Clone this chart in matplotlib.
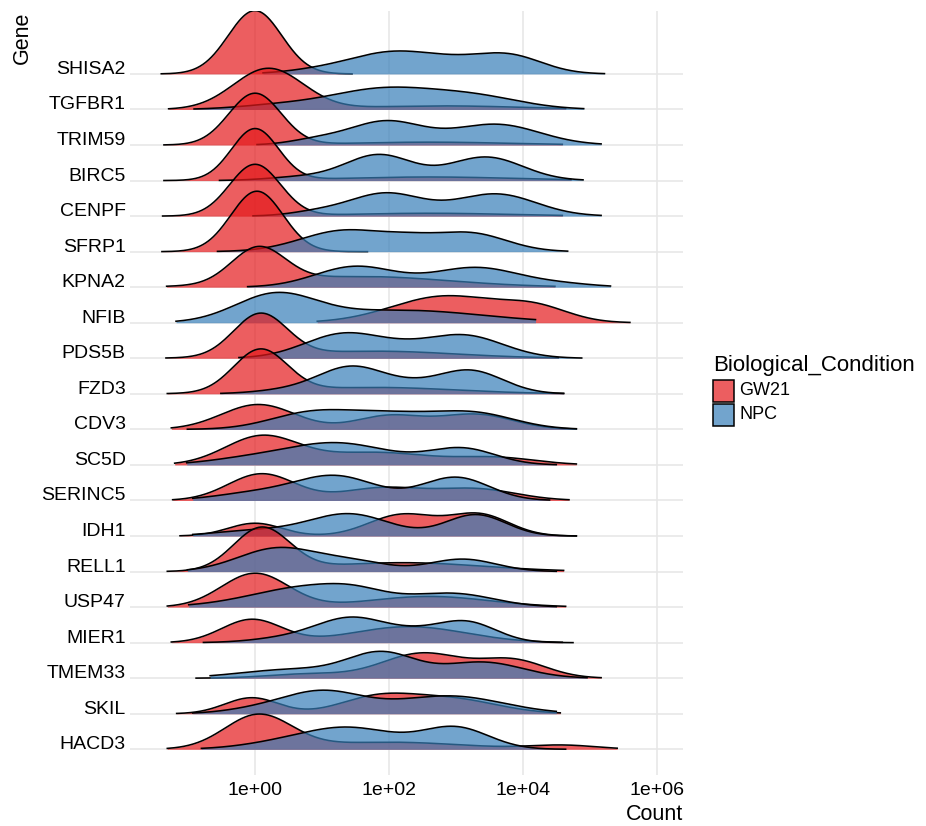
import numpy as np
import matplotlib
matplotlib.use('Agg')
import matplotlib.pyplot as plt
from matplotlib.patches import Rectangle
from matplotlib.colors import to_rgba
from matplotlib.ticker import FixedLocator, NullLocator

plt.rcParams['font.family'] = ['Liberation Sans', 'DejaVu Sans']

# genes, top row first
genes = ['SHISA2', 'TGFBR1', 'TRIM59', 'BIRC5', 'CENPF', 'SFRP1', 'KPNA2', 'NFIB',
         'PDS5B', 'FZD3', 'CDV3', 'SC5D', 'SERINC5', 'IDH1', 'RELL1', 'USP47',
         'MIER1', 'TMEM33', 'SKIL', 'HACD3']

# data range of each ridge (log10 Count)
gw21_lo = [-1.40, -1.29, -1.36, -1.36, -1.38, -1.39, -1.32, 0.93, -1.33, -1.31,
           -1.25, -1.20, -1.23, -1.12, -1.31, -1.31, -1.25, -0.88, -1.17, -1.31]
gw21_hi = [1.45, 4.64, 4.59, 4.72, 4.59, 1.68, 4.48, 5.60, 4.53, 4.61,
           4.80, 4.80, 4.69, 4.80, 4.61, 4.64, 4.59, 5.17, 4.56, 5.41]
npc_lo = [0.12, -0.91, 0.03, -0.53, -0.03, -0.56, -0.11, -1.18, -0.24, -0.51,
          -1.01, -1.02, -0.93, -0.93, -1.01, -0.99, -0.77, -0.67, -0.93, -0.80]
npc_hi = [5.22, 4.91, 5.17, 4.90, 5.17, 4.67, 5.31, 4.19, 4.88, 4.61,
          4.80, 4.50, 4.40, 4.80, 4.50, 4.50, 4.75, 4.96, 4.50, 4.64]

# density bumps: (log10 centre, width, height in rows)
gw21_peaks = [
    [(0.0, 0.40, 1.78)],
    [(0.2, 0.52, 1.15), (2.8, 1.2, 0.10)],
    [(0.0, 0.39, 1.45), (2.6, 1.2, 0.08)],
    [(0.0, 0.35, 1.45), (2.6, 1.3, 0.10)],
    [(0.0, 0.38, 1.45), (2.6, 1.2, 0.08)],
    [(0.03, 0.39, 1.70)],
    [(0.05, 0.40, 1.00), (1.6, 1.3, 0.30)],
    [(2.85, 0.80, 0.75), (4.2, 0.5, 0.38)],
    [(0.08, 0.40, 1.20), (1.8, 1.2, 0.20)],
    [(0.08, 0.40, 1.20), (1.8, 1.2, 0.18)],
    [(0.05, 0.55, 0.70), (2.0, 0.5, 0.38), (3.3, 0.55, 0.42)],
    [(0.1, 0.55, 0.80), (1.8, 0.8, 0.35), (3.6, 0.6, 0.20)],
    [(0.1, 0.50, 0.75), (1.9, 0.6, 0.35), (3.3, 0.6, 0.32)],
    [(0.0, 0.40, 0.36), (2.2, 0.5, 0.60), (3.35, 0.45, 0.60)],
    [(0.1, 0.42, 1.20), (2.2, 1.2, 0.25)],
    [(0.0, 0.50, 0.95), (2.6, 0.9, 0.30)],
    [(-0.05, 0.45, 0.65), (2.3, 0.85, 0.45)],
    [(0.8, 0.60, 0.12), (2.5, 0.6, 0.70), (3.85, 0.5, 0.50)],
    [(-0.05, 0.40, 0.45), (1.8, 0.55, 0.42), (2.9, 0.7, 0.42)],
    [(0.05, 0.50, 0.95), (2.0, 1.1, 0.20), (4.6, 0.5, 0.11)],
]
npc_peaks = [
    [(0.9, 0.5, 0.08), (2.05, 0.65, 0.60), (3.0, 0.5, 0.20), (3.8, 0.5, 0.50)],
    [(0.3, 0.6, 0.10), (1.9, 0.8, 0.57), (3.3, 0.7, 0.33)],
    [(0.9, 0.4, 0.13), (1.95, 0.55, 0.66), (3.6, 0.65, 0.58)],
    [(0.7, 0.5, 0.10), (1.85, 0.5, 0.72), (3.45, 0.55, 0.66)],
    [(0.9, 0.4, 0.10), (1.95, 0.55, 0.64), (3.6, 0.6, 0.62)],
    [(1.35, 0.65, 0.60), (2.3, 0.4, 0.20), (3.2, 0.55, 0.52)],
    [(1.5, 0.6, 0.58), (3.3, 0.65, 0.55), (4.6, 0.5, 0.08)],
    [(0.3, 0.6, 0.75), (2.2, 1.2, 0.35)],
    [(1.35, 0.6, 0.70), (2.2, 0.4, 0.08), (3.1, 0.6, 0.65)],
    [(0.5, 0.5, 0.10), (1.45, 0.5, 0.75), (2.3, 0.4, 0.15), (3.2, 0.5, 0.66)],
    [(0.8, 0.6, 0.42), (2.0, 0.7, 0.42), (3.3, 0.6, 0.42)],
    [(-0.2, 0.6, 0.12), (1.2, 0.8, 0.62), (3.1, 0.5, 0.45)],
    [(0.0, 0.6, 0.20), (1.2, 0.6, 0.68), (3.0, 0.5, 0.65)],
    [(0.0, 0.6, 0.15), (1.4, 0.6, 0.62), (3.3, 0.45, 0.60)],
    [(0.35, 0.6, 0.66), (1.5, 0.5, 0.25), (3.1, 0.5, 0.35)],
    [(0.9, 0.9, 0.60), (1.5, 0.4, 0.12), (3.0, 0.6, 0.35)],
    [(0.4, 0.5, 0.10), (1.45, 0.55, 0.70), (2.4, 0.4, 0.17), (3.15, 0.45, 0.58)],
    [(0.6, 0.8, 0.25), (1.9, 0.5, 0.67), (3.4, 0.6, 0.45)],
    [(0.0, 0.5, 0.10), (1.0, 0.6, 0.62), (2.9, 0.8, 0.50)],
    [(0.3, 0.6, 0.12), (1.4, 0.7, 0.60), (3.0, 0.5, 0.60)],
]

red = '#E41A1C'
blue = '#377EB8'


def ridge(peaks, lo, hi):
    t = np.linspace(lo, hi, 400)
    d = np.zeros_like(t)
    for mu, sd, h in peaks:
        d += h * np.exp(-0.5 * ((t - mu) / sd) ** 2)
    return 10 ** t, d


W, H = 926, 826
fig = plt.figure(figsize=(W / 100, H / 100), dpi=100)
ax = fig.add_axes([130 / W, 1 - 775 / H, (683 - 130) / W, (775 - 11) / H])

n = len(genes)
for i in range(n):
    k = n - i
    z = 3 + i
    series = [(gw21_peaks[i], gw21_lo[i], gw21_hi[i], red, 0.0),
              (npc_peaks[i], npc_lo[i], npc_hi[i], blue, 0.5)]
    for peaks, lo, hi, col, off in series:
        x, d = ridge(peaks, lo, hi)
        ax.fill_between(x, k, k + d, color=col, alpha=0.7, lw=0, zorder=z + off)
        ax.plot(x, k + d, color='black', lw=1.15, zorder=z + off + 0.2)

ax.set_xscale('log')
ax.set_xlim(10 ** -1.867, 10 ** 6.393)
ax.set_ylim(0.277, 21.77)
ax.xaxis.set_major_locator(FixedLocator([1, 1e2, 1e4, 1e6]))
ax.xaxis.set_minor_locator(NullLocator())
ax.set_xticklabels(['1e+00', '1e+02', '1e+04', '1e+06'])
ax.set_yticks(range(1, n + 1))
ax.set_yticklabels(genes[::-1])
for t in ax.get_yticklabels():
    t.set_verticalalignment('baseline')

ax.grid(color='#E6E6E6', lw=1.1)
ax.set_axisbelow(True)
for s in ax.spines.values():
    s.set_visible(False)
ax.tick_params(axis='both', length=0, labelsize=14, colors='black')
ax.tick_params(axis='x', pad=5)
ax.tick_params(axis='y', pad=3)

fig.text(22.7 / W, 1 - 12 / H, 'Gene', rotation=90, ha='center', va='top', fontsize=15.5)
fig.text(683 / W, 1 - 815 / H, 'Count', ha='right', va='center', fontsize=15.5)

# legend
fig.text(712.7 / W, 1 - 365 / H, 'Biological_Condition', ha='left', va='center', fontsize=16)
for j, (lab, col) in enumerate([('GW21', red), ('NPC', blue)]):
    top = 380 + 24 * j
    fig.add_artist(Rectangle((712.7 / W, 1 - (top + 21.6) / H), 21.6 / W, 21.6 / H,
                             transform=fig.transFigure, facecolor=to_rgba(col, 0.7),
                             edgecolor='black', lw=1.1))
    fig.text(739.3 / W, 1 - (top + 10.8) / H, lab, ha='left', va='center', fontsize=13)

fig.savefig('out.png', dpi=100)
